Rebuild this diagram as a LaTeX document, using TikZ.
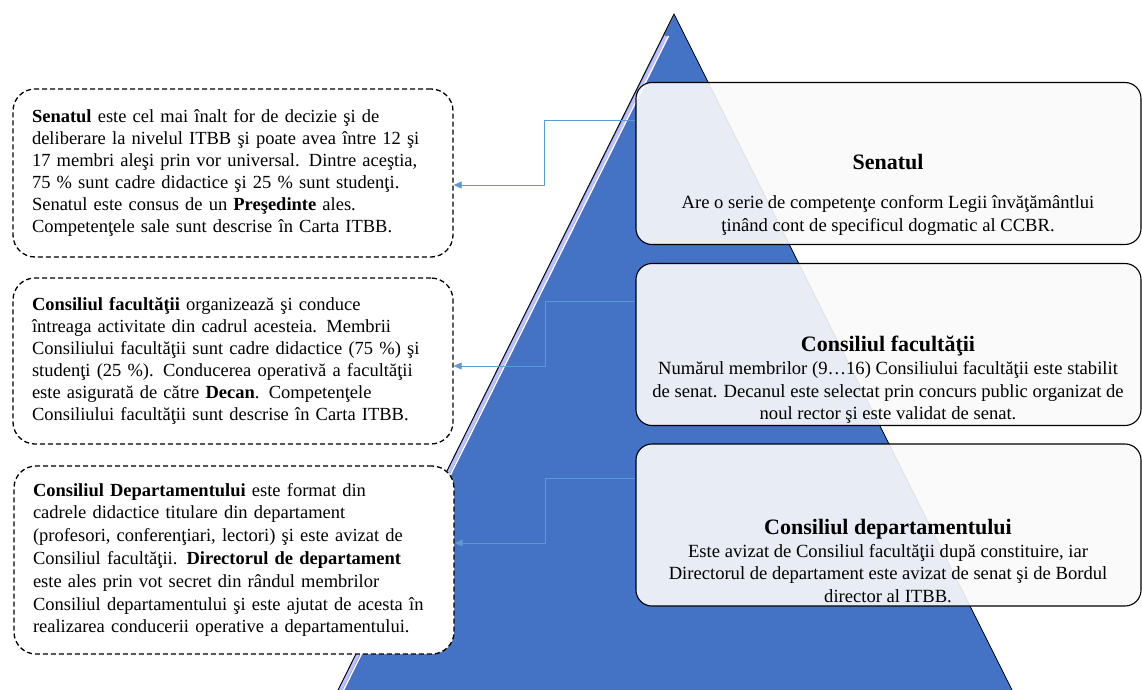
\documentclass[tikz,border=0pt]{standalone}
\usepackage{fontspec}
\setmainfont{Liberation Serif}
\usetikzlibrary{arrows.meta}
\definecolor{pyrblue}{HTML}{4472C4}
\definecolor{linkblue}{HTML}{5B9BD5}
\newcommand{\rtitle}[1]{{\fontsize{22}{23}\selectfont\textbf{#1}}}

\begin{document}
\begin{tikzpicture}[x=1pt, y=-1pt, >={Triangle[length=8pt,width=7pt]},
    lbox/.style={draw, dash pattern=on 5pt off 3pt, line width=1.3pt, rounded corners=22pt,
        fill=white, text width=402pt, align=left, inner xsep=19pt,
        font=\fontsize{18.5}{22}\selectfont},
    rbox/.style={draw, line width=1.1pt, rounded corners=16pt, fill=black!2, fill opacity=0.9,
        minimum width=505pt, minimum height=162pt},
    rtext/.style={align=center, inner sep=0pt, font=\fontsize{18.6}{22.8}\selectfont},
    link/.style={->, draw=linkblue, line width=0.8pt}]

    \useasboundingbox (0,0) rectangle (1142,690);

    % pyramid
    \coordinate (apex) at (674,14);
    \coordinate (baseR) at (1012,690);
    \coordinate (baseL) at (338,690);
    \fill[pyrblue] (apex) -- (baseR) -- (baseL) -- cycle;
    \draw[blue!25!white, line width=3pt] (666,36) -- (340.5,690);
    \draw[white, line width=1.4pt] (668.5,36) -- (343.5,690);
    \draw[line width=0.8pt] (baseL) -- (apex) -- (baseR);

    % left boxes
    \node[lbox, minimum height=168pt] (lsenat) at (233,173) {\textbf{Senatul} este cel mai înalt for de decizie şi de\\
        deliberare la nivelul ITBB şi poate avea între 12 şi\\
        17 membri aleşi prin vor universal. Dintre aceştia,\\
        75 \% sunt cadre didactice şi 25 \% sunt studenţi.\\
        Senatul este consus de un \textbf{Preşedinte} ales.\\
        Competenţele sale sunt descrise în Carta ITBB.};
    \node[lbox, minimum height=166pt] (lfac) at (233,361) {\textbf{Consiliul facultăţii} organizează şi conduce\\
        întreaga activitate din cadrul acesteia. Membrii\\
        Consiliului facultăţii sunt cadre didactice (75 \%) şi\\
        studenţi (25 \%). Conducerea operativă a facultăţii\\
        este asigurată de către \textbf{Decan}. Competenţele\\
        Consiliului facultăţii sunt descrise în Carta ITBB.};
    \node[lbox, minimum height=188pt, font=\fontsize{18.5}{22.8}\selectfont] (ldep) at (234,560) {\textbf{Consiliul Departamentului} este format din\\
        cadrele didactice titulare din departament\\
        (profesori, conferenţiari, lectori) şi este avizat de\\
        Consiliul facultăţii. \textbf{Directorul de departament}\\
        este ales prin vot secret din rândul membrilor\\
        Consiliul departamentului şi este ajutat de acesta în\\
        realizarea conducerii operative a departamentului.};

    % right boxes
    \node[rbox] (senat) at (888.5,163.5) {};
    \node[rbox] (fac) at (888.5,344.5) {};
    \node[rbox] (dep) at (888.5,525) {};

    \node[rtext] (senatT) at (888,195) {\rtitle{Senatul}\\[16pt]
        Are o serie de competenţe conform Legii învăţământlui\\
        ţinând cont de specificul dogmatic al CCBR.};
    \node[rtext] (facT) at (888,380) {\rtitle{Consiliul facultăţii}\\
        Numărul membrilor (9…16) Consiliului facultăţii este stabilit\\
        de senat. Decanul este selectat prin concurs public organizat de\\
        noul rector şi este validat de senat.};
    \node[rtext] (depT) at (888,561) {\rtitle{Consiliul departamentului}\\
        Este avizat de Consiliul facultăţii după constituire, iar\\
        Directorul de departament este avizat de senat şi de Bordul\\
        director al ITBB.};

    % links
    \draw[link] ([yshift=43pt]senat.west) -- ++(-91,0) |- ([yshift=-12pt]lsenat.east);
    \draw[link] ([yshift=43.5pt]fac.west) -- ++(-90,0) |- ([yshift=-5pt]lfac.east);
    \draw[link] ([yshift=47pt]dep.west) -- ++(-90,0) |- ([yshift=17pt]ldep.east);
\end{tikzpicture}
\end{document}
